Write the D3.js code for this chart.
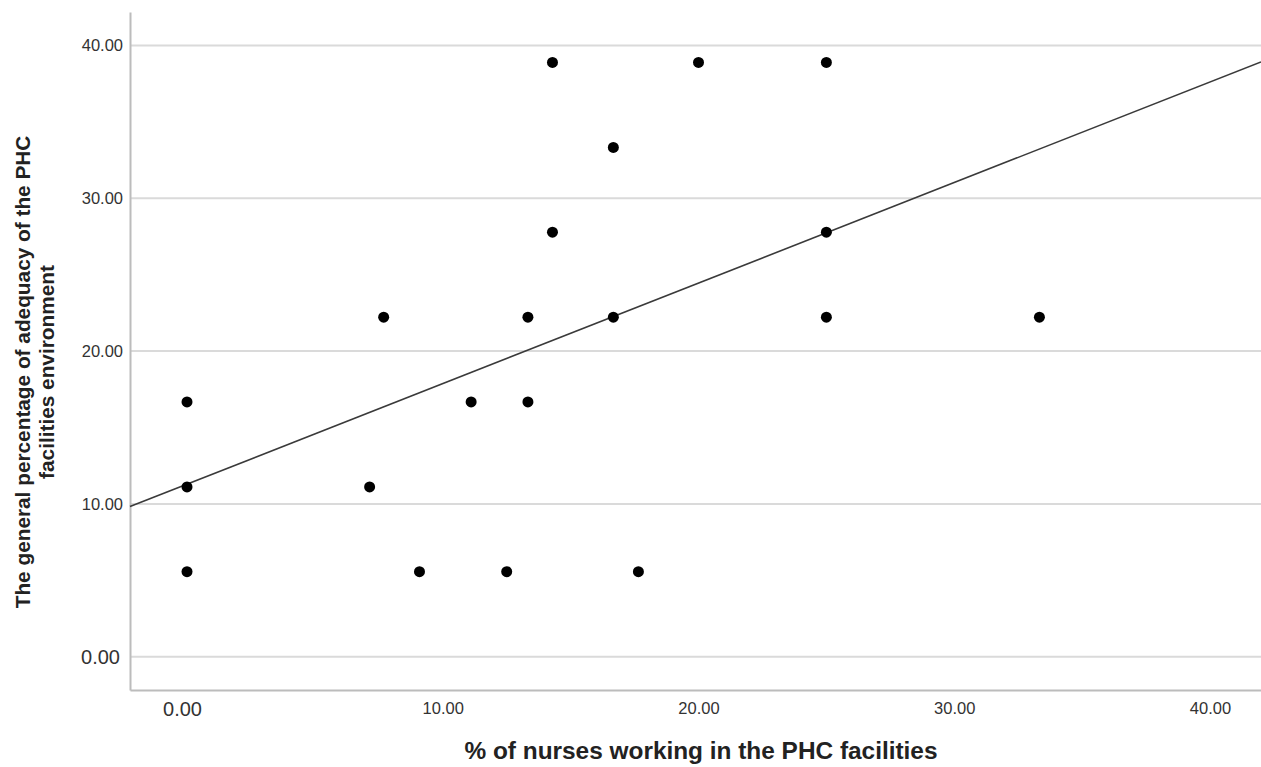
<!DOCTYPE html>
<html>
<head>
<meta charset="utf-8">
<script src="https://cdn.jsdelivr.net/npm/d3@7"></script>
<style>
  html, body { margin: 0; padding: 0; background: #fff; }
  svg { display: block; font-family: "Liberation Sans", Arial, sans-serif; }
</style>
</head>
<body>
<div id="chart"></div>
<script>
// % of nurses working in the PHC facilities
const nursesPct = [0, 0, 0, 7.14, 7.69, 9.09, 11.11, 12.5, 13.33, 13.33,
  14.29, 14.29, 16.67, 16.67, 17.65, 20, 25, 25, 25, 33.33];
// general % of adequacy of the PHC facilities environment
const adequacyPct = [16.67, 11.11, 5.56, 11.11, 22.22, 5.56, 16.67, 5.56, 22.22, 16.67,
  38.89, 27.78, 33.33, 22.22, 5.56, 38.89, 38.89, 27.78, 22.22, 22.22];

const xTicks = [0, 10, 20, 30, 40];
const yTicks = [0, 10, 20, 30, 40];

// fit line
const fitIntercept = 11.29;
const fitSlope = 0.658;

const width = 1261;
const height = 767;
const margin = { left: 130, right: 0, top: 12, bottom: 77 };

const svg = d3.select("#chart")
  .append("svg")
  .attr("width", width)
  .attr("height", height);

const xScale = d3.scaleLinear()
  .domain([-2.229, 41.994])
  .range([margin.left, width - margin.right]);

const yScale = d3.scaleLinear()
  .domain([-2.18, 42.19])
  .range([height - margin.bottom, margin.top]);

// horizontal grid lines
svg.append("g")
  .selectAll("line")
  .data(yTicks)
  .join("line")
  .attr("x1", margin.left).attr("x2", width - margin.right)
  .attr("y1", d => yScale(d)).attr("y2", d => yScale(d))
  .style("stroke", "#dadada")
  .style("stroke-width", 2);

// y axis
const yAxis = svg.append("g")
  .attr("transform", `translate(${margin.left},0)`)
  .call(d3.axisLeft(yScale).tickValues(yTicks).tickFormat(d3.format(".2f")).tickSize(0).tickPadding(7));
yAxis.select(".domain").style("stroke", "#bcbcbc").style("stroke-width", 2);
yAxis.selectAll("text")
  .style("fill", "#333")
  .style("font-size", d => d === 0 ? "20px" : "16.5px")
  .attr("dx", d => d === 0 ? -3 : 0);

// x axis
const xAxis = svg.append("g")
  .attr("transform", `translate(0,${height - margin.bottom})`)
  .call(d3.axisBottom(xScale).tickValues(xTicks).tickFormat(d3.format(".2f")).tickSize(0).tickPadding(12));
xAxis.select(".domain").style("stroke", "#bcbcbc").style("stroke-width", 2);
xAxis.selectAll("text")
  .style("fill", "#333")
  .style("font-size", d => d === 0 ? "20px" : "16.5px")
  .attr("dx", d => d === 0 ? -5 : 0);

// fit line
const xEnds = xScale.domain();
const fitLine = d3.line()
  .x(d => xScale(d))
  .y(d => yScale(fitIntercept + fitSlope * d));
svg.append("path")
  .attr("d", fitLine(xEnds))
  .style("fill", "none")
  .style("stroke", "#3a3a3a")
  .style("stroke-width", 1.6);

// points
svg.append("g")
  .selectAll("circle")
  .data(d3.range(nursesPct.length))
  .join("circle")
  .attr("cx", i => xScale(nursesPct[i]))
  .attr("cy", i => yScale(adequacyPct[i]))
  .attr("r", 5.5)
  .attr("fill", "#000");

// axis titles
svg.append("text")
  .attr("x", 701).attr("y", 759)
  .attr("text-anchor", "middle")
  .style("font-size", "24.4px")
  .style("font-weight", "bold")
  .style("fill", "#222")
  .text("% of nurses working in the PHC facilities");

const yTitle = svg.append("text")
  .attr("transform", "translate(30,372) rotate(-90)")
  .attr("text-anchor", "middle")
  .style("font-size", "20.8px")
  .style("font-weight", "bold")
  .style("fill", "#222");
yTitle.append("tspan").attr("x", 0).attr("y", 0).text("The general percentage of adequacy of the PHC");
yTitle.append("tspan").attr("x", 0).attr("y", 24).text("facilities environment");
</script>
</body>
</html>
